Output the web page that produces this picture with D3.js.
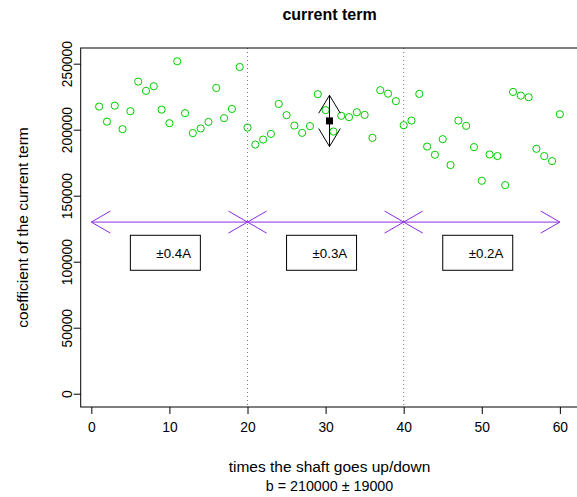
<!DOCTYPE html>
<html><head><meta charset="utf-8">
<script src="https://cdn.jsdelivr.net/npm/d3@7"></script>
<style>body{margin:0;background:#fff}svg{display:block}</style>
</head><body><svg id="c" width="577" height="497"></svg>
<script>
// ---- data ----
const shaftTimes = [1,2,3,4,5,6,7,8,9,10,11,12,13,14,15,16,17,18,19,20,
  21,22,23,24,25,26,27,28,29,30,31,32,33,34,35,36,37,38,39,40,
  41,42,43,44,45,46,47,48,49,50,51,52,53,54,55,56,57,58,59,60];
const coefficients = [217500,206100,218200,200400,214000,236400,229400,232900,215200,204900,
  251800,212500,197400,200900,205900,231600,208700,215700,247500,201600,
  188700,192500,196800,219500,211000,203100,197600,202700,226900,214800,
  198600,210500,209500,213200,211200,193800,229900,227300,221600,203400,
  206900,227100,187200,181000,192800,173200,206900,202900,186800,161300,
  181200,180000,158000,228600,225800,224600,185500,180000,176200,211700];
const xTicks = [0,10,20,30,40,50,60];
const yTicks = [0,50000,100000,150000,200000,250000];
const dividers = [20,40];
const rangeStarts = [0,20,40];
const rangeEnds = [20,40,60];
const rangeArrowY = 130000;
const rangeLabels = ["\u00b10.4A","\u00b10.3A","\u00b10.2A"];
const labelBoxX = [5,25,45];
const labelBoxY = 120000;
const titleText = "current term";
const xLabel = "times the shaft goes up/down";
const subLabel = "b = 210000 \u00b1 19000";
const yLabel = "coefficient of the current term";

// ---- layout ----
const W = 577, H = 497;
const plotL = 80.7, plotR = 578.3, plotT = 48, plotB = 407;
const font = "'Liberation Sans', Arial, Helvetica, sans-serif";
const svg = d3.select("#c");

const xmin = d3.min(shaftTimes), xmax = d3.max(shaftTimes);
const xr = xmax - xmin;
const x = d3.scaleLinear().domain([xmin - 0.04*xr, xmax + 0.04*xr]).range([plotL, plotR]);
const ymax = d3.max(coefficients);
const y = d3.scaleLinear().domain([-0.04*ymax, ymax*1.04]).range([plotB, plotT]);

// arrow helper (R arrows(code=3))
function arrow(g, x0, y0, x1, y1, len, angDeg, color) {
  g.append("line").attr("x1",x0).attr("y1",y0).attr("x2",x1).attr("y2",y1)
    .attr("stroke",color).attr("stroke-width",1);
  const a = angDeg*Math.PI/180;
  const heads = [[x0,y0,Math.atan2(y1-y0,x1-x0)],[x1,y1,Math.atan2(y0-y1,x0-x1)]];
  heads.forEach(([hx,hy,th]) => {
    [a,-a].forEach(s => {
      g.append("line").attr("x1",hx).attr("y1",hy)
        .attr("x2",hx + len*Math.cos(th+s)).attr("y2",hy + len*Math.sin(th+s))
        .attr("stroke",color).attr("stroke-width",1);
    });
  });
}

// divider lines
svg.append("g").selectAll("line").data(dividers).join("line")
  .attr("x1",d=>x(d)).attr("x2",d=>x(d)).attr("y1",plotT).attr("y2",plotB)
  .attr("stroke","#7a7a7a").attr("stroke-width",1).attr("stroke-dasharray","1,3");

// points
svg.append("g").selectAll("circle").data(shaftTimes).join("circle")
  .attr("cx",(d)=>x(d)).attr("cy",(d,i)=>y(coefficients[i])).attr("r",3.6)
  .attr("fill","none").attr("stroke","#00CD00").attr("stroke-width",1);

// mean +/- sd
const meanX = d3.mean(shaftTimes), meanY = d3.mean(coefficients), sdY = d3.deviation(coefficients);
const mg = svg.append("g");
arrow(mg, x(meanX), y(meanY - sdY), x(meanX), y(meanY + sdY), 21, 31, "#000");
mg.append("rect").attr("x",x(meanX)-3.5).attr("y",y(meanY)-3.5).attr("width",7).attr("height",7).attr("fill","#000");

// range arrows
const ag = svg.append("g");
rangeStarts.forEach((s,i)=> arrow(ag, x(s), y(rangeArrowY), x(rangeEnds[i]), y(rangeArrowY), 22, 30, "#8A2BE2"));

// label boxes
const lg = svg.append("g");
rangeLabels.forEach((t,i)=>{
  const bx = x(labelBoxX[i]), by = y(labelBoxY);
  lg.append("rect").attr("x",bx).attr("y",by).attr("width",70).attr("height",35)
    .attr("fill","#fff").attr("stroke","#000").attr("stroke-width",1);
  lg.append("text").attr("x",bx+26).attr("y",by+22.5).text(t)
    .attr("font-family",font).attr("font-size",13.3).attr("fill","#000");
});

// box
svg.append("rect").attr("x",plotL).attr("y",plotT).attr("width",plotR-plotL).attr("height",plotB-plotT)
  .attr("fill","none").attr("stroke","#000").attr("stroke-width",1);

// axes
const xa = svg.append("g").attr("transform",`translate(0,${plotB})`)
  .call(d3.axisBottom(x).tickValues(xTicks).tickSize(7).tickPadding(8).tickFormat(d3.format("d")));
xa.select(".domain").remove();
xa.selectAll("text").attr("font-family",font).attr("font-size",13.8).attr("fill","#000");
xa.selectAll("line").attr("stroke","#000");

const ya = svg.append("g").attr("transform",`translate(${plotL},0)`)
  .call(d3.axisLeft(y).tickValues(yTicks).tickSize(7).tickFormat(d3.format("d")));
ya.select(".domain").remove();
ya.selectAll("line").attr("stroke","#000");
ya.selectAll("text").attr("font-family",font).attr("font-size",13.8).attr("fill","#000")
  .attr("transform","rotate(-90)").attr("x",0).attr("y",-9).attr("dy",0)
  .attr("text-anchor","middle");

// titles
svg.append("text").attr("x",(plotL+plotR)/2).attr("y",20).attr("text-anchor","middle")
  .attr("font-family",font).attr("font-size",16).attr("font-weight","bold").text(titleText);
svg.append("text").attr("x",(plotL+plotR)/2).attr("y",472).attr("text-anchor","middle")
  .attr("font-family",font).attr("font-size",15.5).text(xLabel);
svg.append("text").attr("x",(plotL+plotR)/2).attr("y",491).attr("text-anchor","middle")
  .attr("font-family",font).attr("font-size",14.3).text(subLabel);
svg.append("text").attr("transform",`translate(28,${(plotT+plotB)/2}) rotate(-90)`).attr("text-anchor","middle")
  .attr("font-family",font).attr("font-size",15.5).text(yLabel);
</script></body></html>
